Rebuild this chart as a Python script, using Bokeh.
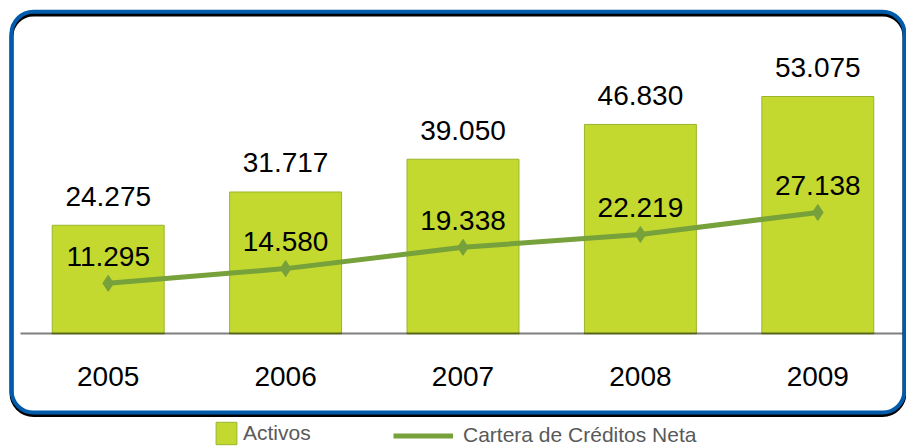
from bokeh.plotting import figure
from bokeh.models import (ColumnDataSource, Range1d, BoxAnnotation, Legend, LegendItem,
                          FixedTicker)
from bokeh.core.properties import value
from bokeh.embed import file_html
from bokeh.resources import INLINE

# ---- data ----
years = [2005, 2006, 2007, 2008, 2009]
activos = [24275, 31717, 39050, 46830, 53075]
cartera = [11295, 14580, 19338, 22219, 27138]


def fmt(v):
    return f"{v:,}".replace(",", ".")


source = ColumnDataSource(dict(
    year=years,
    activos=activos,
    cartera=cartera,
    activos_lbl=[fmt(v) for v in activos],
    cartera_lbl=[fmt(v) for v in cartera],
))

# ---- layout helpers (canvas pixels -> plot coordinates) ----
PX = 4.471 / 1000.0      # pixels per value unit
BASE = 333.3             # canvas y of value 0
CAT = 177.4              # pixels per year
X0 = years[0] - 107.7 / CAT   # value of x at canvas x = 0


def sx(px):
    return X0 + px / CAT


def sy(py):
    return (BASE - py) / PX


FONT = "Liberation Sans"
BAR_FILL = "#C3D92F"
BAR_LINE = "#98B52C"
LINE_COL = "#77A13A"
BLUE = "#005BAA"

p = figure(width=906, height=447,
           x_range=Range1d(sx(0), sx(906)),
           y_range=Range1d(sy(447), sy(0)),
           output_backend="svg", toolbar_location=None,
           min_border_left=0, min_border_right=0,
           min_border_top=0, min_border_bottom=0)
p.yaxis.visible = False
p.xgrid.visible = False
p.ygrid.visible = False
p.outline_line_color = None
p.background_fill_color = "white"
p.border_fill_color = "white"

# frame with shadow
shadow = BoxAnnotation(left=sx(11), right=sx(904), top=sy(14), bottom=sy(414.5),
                       fill_color=None, fill_alpha=0, line_color="black",
                       line_alpha=1.0, line_width=4, border_radius=22)
frame = BoxAnnotation(left=sx(11), right=sx(904), top=sy(11.3), bottom=sy(412),
                      fill_color=None, fill_alpha=0, line_color=BLUE,
                      line_alpha=1.0, line_width=4, border_radius=22)
p.add_layout(shadow)
p.add_layout(frame)

bars = p.vbar(x="year", top="activos", bottom=0, width=0.631, source=source,
              fill_color=BAR_FILL, line_color=BAR_LINE, line_width=1)
ln = p.line(x="year", y="cartera", source=source, line_color=LINE_COL, line_width=5)
p.scatter(x="year", y="cartera", source=source, marker="diamond", size=16,
          fill_color=LINE_COL, line_color=LINE_COL)

p.text(x="year", y="activos", text="activos_lbl", source=source,
       text_align="center", text_baseline="alphabetic", y_offset=-29,
       text_font=value(FONT), text_font_size="28px", text_color="black")
p.text(x="year", y="cartera", text="cartera_lbl", source=source,
       text_align="center", text_baseline="alphabetic", y_offset=-27,
       text_font=value(FONT), text_font_size="28px", text_color="black")

ax = p.xaxis[0]
ax.ticker = FixedTicker(ticks=years)
ax.fixed_location = 0
ax.bounds = (sx(20), sx(906))
ax.axis_line_color = "black"
ax.axis_line_alpha = 0.5
ax.axis_line_width = 2
ax.major_tick_line_color = None
ax.minor_tick_line_color = None
ax.major_label_standoff = 27
ax.major_label_text_font = FONT
ax.major_label_text_font_size = "28px"
ax.major_label_text_color = "black"

common = dict(orientation="horizontal", padding=0, spacing=0, margin=0,
              border_line_color=None, background_fill_alpha=0,
              label_text_font=FONT, label_text_font_size="21px",
              label_text_color="#595959")
leg1 = Legend(items=[LegendItem(label="Activos", renderers=[bars])],
              location=(213, 0), glyph_width=26, glyph_height=28,
              label_standoff=4, **common)
leg2 = Legend(items=[LegendItem(label="Cartera de Créditos Neta", renderers=[ln])],
              location=(393, 0), glyph_width=60, glyph_height=23,
              label_standoff=10, **common)
p.add_layout(leg1)
p.add_layout(leg2)

open("out.html", "w").write(file_html(p, INLINE))
